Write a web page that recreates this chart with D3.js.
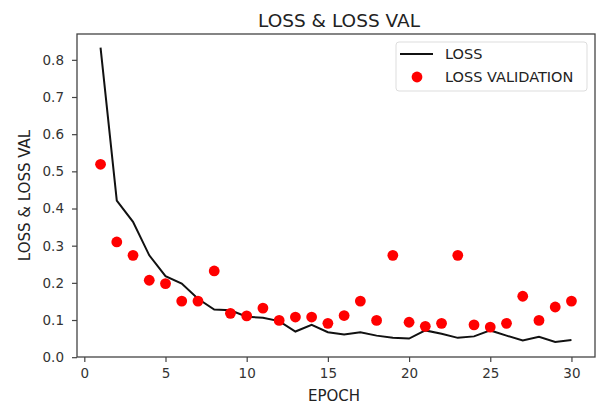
<!DOCTYPE html>
<html>
<head>
<meta charset="utf-8">
<script src="https://cdn.jsdelivr.net/npm/d3@7"></script>
<style>
  body { margin: 0; background: #fff; }
  text { font-family: "DejaVu Sans", sans-serif; }
</style>
</head>
<body>
<div id="chart"></div>
<script>
let epochs = d3.range(1, 31);
let loss = [0.833, 0.421, 0.364, 0.274, 0.218, 0.198, 0.157, 0.128, 0.126, 0.109,
  0.106, 0.097, 0.069, 0.087, 0.067, 0.061, 0.067, 0.058, 0.052, 0.050,
  0.072, 0.063, 0.052, 0.056, 0.072, 0.058, 0.045, 0.055, 0.041, 0.046];
let lossVal = [0.519, 0.310, 0.274, 0.207, 0.198, 0.151, 0.151, 0.232, 0.118, 0.111,
  0.132, 0.099, 0.108, 0.108, 0.091, 0.112, 0.151, 0.099, 0.274, 0.094,
  0.083, 0.091, 0.274, 0.087, 0.081, 0.091, 0.164, 0.099, 0.135, 0.151];
let xTicks = [0, 5, 10, 15, 20, 25, 30];
let yTicks = [0.0, 0.1, 0.2, 0.3, 0.4, 0.5, 0.6, 0.7, 0.8];

let width = 599, height = 405;
let plotLeft = 77, plotRight = 595, plotTop = 34, plotBottom = 357;

let svg = d3.select("#chart")
  .append("svg")
  .attr("width", width)
  .attr("height", height);

let x = d3.scaleLinear().domain([-0.45, 31.45]).range([plotLeft, plotRight]);
let y = d3.scaleLinear().domain([0.0005, 0.8695]).range([plotBottom, plotTop]);

// axes
let xAxis = svg.append("g")
  .attr("transform", "translate(0," + plotBottom + ")")
  .call(d3.axisBottom(x).tickValues(xTicks).tickSize(5).tickPadding(6));
let yAxis = svg.append("g")
  .attr("transform", "translate(" + plotLeft + ",0)")
  .call(d3.axisLeft(y).tickValues(yTicks).tickFormat(d3.format(".1f")).tickSize(5).tickPadding(8));

[xAxis, yAxis].forEach(function (a) {
  a.select(".domain").remove();
  a.selectAll("line").attr("stroke", "#444").attr("stroke-width", 1.2);
  a.selectAll("text").attr("fill", "#333").style("font-size", "13.5px");
});

// frame
svg.append("rect")
  .attr("x", plotLeft)
  .attr("y", plotTop)
  .attr("width", plotRight - plotLeft)
  .attr("height", plotBottom - plotTop)
  .attr("fill", "none")
  .attr("stroke", "#444")
  .attr("stroke-width", 1.3);

// loss line
let line = d3.line()
  .x(function (d, i) { return x(epochs[i]); })
  .y(function (d) { return y(d); });

svg.append("path")
  .datum(loss)
  .attr("d", line)
  .attr("fill", "none")
  .attr("stroke", "#111")
  .attr("stroke-width", 2);

// validation points
svg.selectAll(".val")
  .data(lossVal)
  .enter()
  .append("circle")
  .attr("class", "val")
  .attr("cx", function (d, i) { return x(epochs[i]); })
  .attr("cy", function (d) { return y(d); })
  .attr("r", 5.4)
  .attr("fill", "#ff0000");

// titles
svg.append("text")
  .attr("x", 339)
  .attr("y", 27)
  .attr("text-anchor", "middle")
  .attr("fill", "#222")
  .style("font-size", "18.5px")
  .text("LOSS & LOSS VAL");

svg.append("text")
  .attr("x", 334)
  .attr("y", 401)
  .attr("text-anchor", "middle")
  .attr("fill", "#222")
  .style("font-size", "15px")
  .text("EPOCH");

svg.append("text")
  .attr("transform", "translate(30," + (plotTop + plotBottom) / 2 + ") rotate(-90)")
  .attr("text-anchor", "middle")
  .attr("fill", "#222")
  .style("font-size", "15px")
  .text("LOSS & LOSS VAL");

// legend
let legend = svg.append("g");
legend.append("rect")
  .attr("x", 396)
  .attr("y", 42)
  .attr("width", 191)
  .attr("height", 49)
  .attr("rx", 3)
  .attr("fill", "#fff")
  .attr("stroke", "#ddd");
legend.append("line")
  .attr("x1", 400).attr("x2", 433)
  .attr("y1", 54).attr("y2", 54)
  .attr("stroke", "#111")
  .attr("stroke-width", 2);
legend.append("circle")
  .attr("cx", 417).attr("cy", 77)
  .attr("r", 5.4)
  .attr("fill", "#ff0000");
legend.append("text")
  .attr("x", 445).attr("y", 58.5)
  .attr("fill", "#222")
  .style("font-size", "14.5px")
  .text("LOSS");
legend.append("text")
  .attr("x", 445).attr("y", 81.5)
  .attr("fill", "#222")
  .style("font-size", "14.5px")
  .text("LOSS VALIDATION");
</script>
</body>
</html>
